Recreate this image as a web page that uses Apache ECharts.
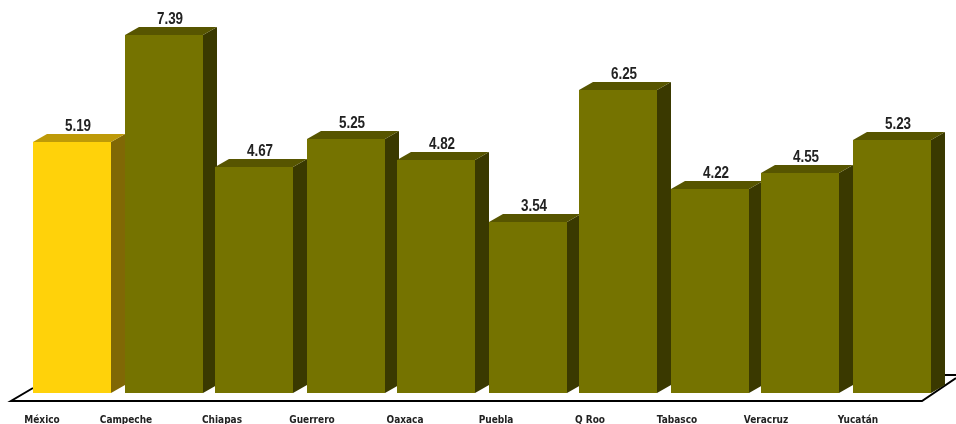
<!DOCTYPE html>
<html><head><meta charset="utf-8">
<style>html,body{margin:0;padding:0;background:#fff}#c{width:956px;height:424px}</style>
<script src="https://cdn.jsdelivr.net/npm/echarts@6/dist/echarts.min.js"></script>
</head><body><div id="c"></div>
<script>
const categories = ['México','Campeche','Chiapas','Guerrero','Oaxaca','Puebla','Q Roo','Tabasco','Veracruz','Yucatán'];
const values = [5.19,7.39,4.67,5.25,4.82,3.54,6.25,4.22,4.55,5.23];
const labelShift = [30,37,32,33,31,31,28,32,34,33];

const LABEL_FONT = '"DejaVu Sans Condensed","Liberation Sans",sans-serif';
const VALUE_FONT = '"Liberation Sans",sans-serif';
const OLIVE = {front:'#757300', top:'#575500', side:'#3a3900'};
const GOLD = {front:'#ffd20a', top:'#be9a08', side:'#806805'};
const DX = 14, DY = 8;

const rich = {};
labelShift.forEach((s,i)=>{ rich['l'+i] = {fontFamily:LABEL_FONT, fontWeight:'bold', fontSize:10, color:'#222', padding:[0,2*s,0,0]}; });

function renderItem(params, api){
  const i = api.value(0), v = api.value(1);
  const top = api.coord([i, v]), base = api.coord([i, 0]);
  const w = api.size([1,0])[0] * 78/91;
  const x0 = Math.round(top[0]-w/2) + (i % 2), x1 = x0 + 78, y0 = Math.round(top[1]), y1 = Math.round(base[1]);
  const c = i === 0 ? GOLD : OLIVE;
  const cx = x0 + 45, cy = y0 - 15.5;
  return {type:'group', children:[
    {type:'polygon', shape:{points:[[x1,y0],[x1+DX,y0-DY],[x1+DX,y1-DY],[x1,y1]]}, style:{fill:c.side}},
    {type:'polygon', shape:{points:[[x0,y0],[x0+DX,y0-DY],[x1+DX,y0-DY],[x1,y0]]}, style:{fill:c.top}},
    {type:'rect', shape:{x:x0,y:y0,width:78,height:y1-y0}, style:{fill:c.front}},
    {type:'text', x:cx, y:cy, scaleX:0.84, style:{text:v.toFixed(2), x:0, y:0, align:'center', verticalAlign:'middle', font:'bold 16px '+VALUE_FONT, fill:'#222'}}
  ]};
}

const chart = echarts.init(document.getElementById('c'), null, {renderer:'canvas'});
chart.setOption({
  animation:false,
  backgroundColor:'#fff',
  grid:{left:26.5, top:5.5, width:910, height:387.5, outerBoundsMode:'none', containLabel:false},
  xAxis:{type:'category', data:categories, axisLine:{show:false}, axisTick:{show:false},
    axisLabel:{interval:0, margin:22, hideOverlap:false, formatter:(n,i)=>`{l${i}|${n}}`, rich}},
  yAxis:{type:'value', min:0, max:8, show:false},
  graphic:[{type:'polyline', z:-1, silent:true,
    shape:{points:[[33,388],[11,401],[922,401],[956,378]]}, style:{stroke:'#000',lineWidth:2,fill:null}},
    {type:'line', z:-1, silent:true, shape:{x1:940,y1:375,x2:956,y2:375}, style:{stroke:'#000',lineWidth:2}}],
  series:[{type:'custom', renderItem, clip:false, data:values.map((v,i)=>[i,v]), encode:{x:0,y:1}}]
});
</script></body></html>
